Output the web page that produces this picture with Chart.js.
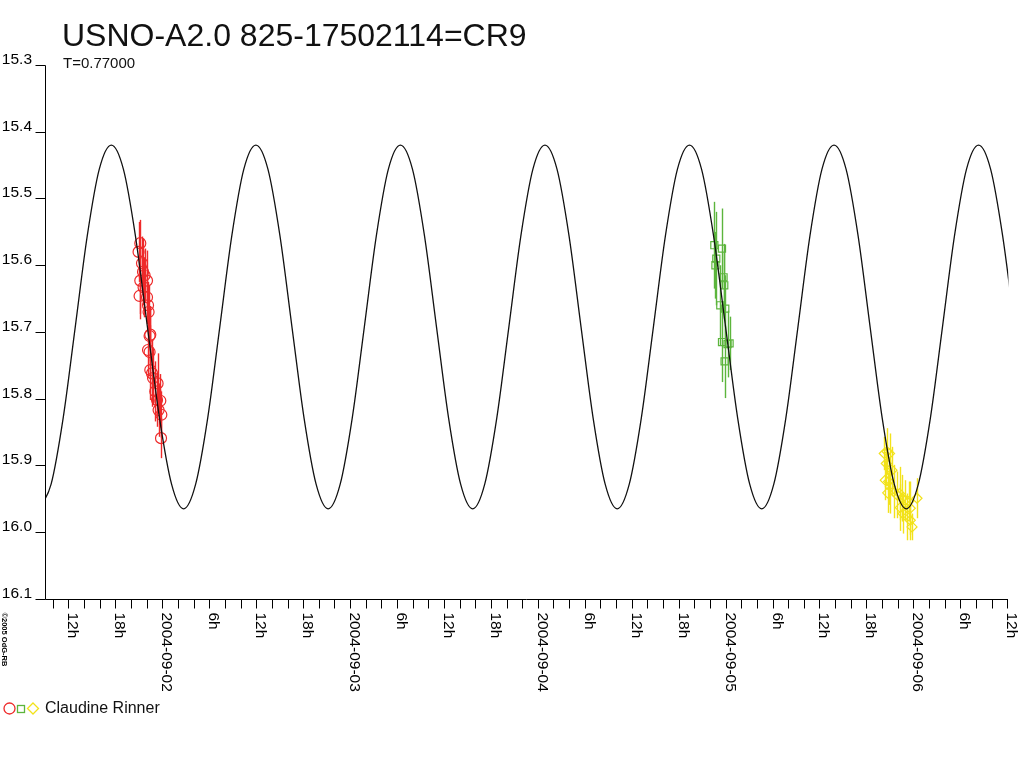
<!DOCTYPE html>
<html>
<head>
<meta charset="utf-8">
<script src="https://cdn.jsdelivr.net/npm/chart.js@4"></script>
<style>
html,body{margin:0;padding:0;background:#fff;}
#wrap{width:1024px;height:768px;position:relative;}
</style>
</head>
<body>
<div id="wrap"><canvas id="c" width="1024" height="768"></canvas></div>
<script>
// ---------- DATA (hours since 2004-09-01 00:00 UT, magnitudes) ----------
const titleText = 'USNO-A2.0 825-17502114=CR9';
const subtitleText = 'T=0.77000';
const observer = 'Claudine Rinner';

// model light curve (period 0.77 d)
const curveHours = [
  8.242, 9.782, 11.321, 12.861, 14.401, 15.940, 17.480, 19.020, 20.559, 22.099, 23.639, 25.178, 26.718,
  28.258, 29.797, 31.337, 32.877, 34.416, 35.956, 37.496, 39.035, 40.575, 42.115, 43.654, 45.194,
  46.734, 48.273, 49.813, 51.353, 52.892, 54.432, 55.972, 57.511, 59.051, 60.591, 62.130, 63.670,
  65.210, 66.749, 68.289, 69.829, 71.368, 72.908, 74.448, 75.987, 77.527, 79.067, 80.606, 82.146,
  83.686, 85.225, 86.765, 88.305, 89.844, 91.384, 92.924, 94.463, 96.003, 97.543, 99.082, 100.622,
  102.162, 103.701, 105.241, 106.781, 108.320, 109.860, 111.400, 112.939, 114.479, 116.019, 117.558, 119.098,
  120.638, 122.177, 123.717, 125.257, 126.796, 128.336, 129.876, 131.415, 132.955
];
const curveMags = [
  15.965, 15.928, 15.829, 15.693, 15.556, 15.456, 15.420, 15.456, 15.556, 15.693, 15.829, 15.928, 15.965,
  15.928, 15.829, 15.693, 15.556, 15.456, 15.420, 15.456, 15.556, 15.693, 15.829, 15.928, 15.965,
  15.928, 15.829, 15.693, 15.556, 15.456, 15.420, 15.456, 15.556, 15.693, 15.829, 15.928, 15.965,
  15.928, 15.829, 15.693, 15.556, 15.456, 15.420, 15.456, 15.556, 15.693, 15.829, 15.928, 15.965,
  15.928, 15.829, 15.693, 15.556, 15.456, 15.420, 15.456, 15.556, 15.693, 15.829, 15.928, 15.965,
  15.928, 15.829, 15.693, 15.556, 15.456, 15.420, 15.456, 15.556, 15.693, 15.829, 15.928, 15.965,
  15.928, 15.829, 15.693, 15.556, 15.456, 15.420, 15.456, 15.556, 15.693
];

// night 1 (red circles)
const redHours = [20.96, 21.09, 21.18, 21.18, 21.40, 21.53, 21.60, 21.73, 22.04, 22.04, 22.17, 22.17, 22.24,
  22.37, 22.37, 22.46, 22.46, 22.68, 22.81, 23.10, 23.32, 23.39, 23.52, 23.74, 23.87, 23.83];
const redMags = [15.580, 15.646, 15.567, 15.623, 15.597, 15.610, 15.633, 15.615, 15.623, 15.648, 15.660, 15.727, 15.670,
  15.706, 15.730, 15.704, 15.757, 15.762, 15.769, 15.789, 15.802, 15.777, 15.817, 15.803, 15.824, 15.859];
const redErrs = [0.045, 0.035, 0.035, 0.05, 0.04, 0.05, 0.045, 0.04, 0.045, 0.04, 0.035, 0.04, 0.04,
  0.045, 0.04, 0.04, 0.045, 0.05, 0.04, 0.045, 0.04, 0.045, 0.04, 0.04, 0.035, 0.03];

// night 2 (green squares)
const greenHours = [94.56, 94.81, 94.70, 95.54, 95.74, 95.83, 95.32, 95.96, 95.54, 96.25, 96.51, 95.87];
const greenMags = [15.570, 15.590, 15.600, 15.575, 15.618, 15.630, 15.660, 15.665, 15.715, 15.718, 15.717, 15.744];
const greenErrs = [0.065, 0.07, 0.05, 0.06, 0.05, 0.05, 0.06, 0.05, 0.06, 0.05, 0.04, 0.055];

// night 3 (yellow diamonds)
const yellowHours = [116.28, 116.63, 116.96, 116.54, 117.27, 116.41, 116.84, 117.05, 116.71, 117.47, 117.91,
  118.24, 118.55, 118.97, 119.39, 120.47, 118.68, 119.19, 119.61, 119.83, 118.33, 119.61];
const yellowMags = [15.882, 15.879, 15.882, 15.897, 15.907, 15.922, 15.924, 15.932, 15.941, 15.939, 15.944,
  15.942, 15.949, 15.952, 15.954, 15.949, 15.972, 15.977, 15.982, 15.992, 15.963, 15.964];
const yellowErrs = [0.025, 0.035, 0.03, 0.03, 0.035, 0.03, 0.035, 0.04, 0.03, 0.04, 0.035,
  0.04, 0.035, 0.03, 0.03, 0.03, 0.03, 0.035, 0.03, 0.02, 0.035, 0.04];

// axis ticks
const xMinorTicks = [10,12,14,16,18,20,22,24,26,28,30,32,34,36,38,40,42,44,46,48,50,52,54,56,58,60,62,64,66,68,70,
  72,74,76,78,80,82,84,86,88,90,92,94,96,98,100,102,104,106,108,110,112,114,116,118,120,122,124,126,128,130,132];
const xLabelHours = [12,18,24,30,36,42,48,54,60,66,72,78,84,90,96,102,108,114,120,126,132];
const xLabelTexts = ['12h','18h','2004-09-02','6h','12h','18h','2004-09-03','6h','12h','18h','2004-09-04',
  '6h','12h','18h','2004-09-05','6h','12h','18h','2004-09-06','6h','12h'];
const yTicks = [15.3, 15.4, 15.5, 15.6, 15.7, 15.8, 15.9, 16.0, 16.1];
const yTickLabels = ['15.3','15.4','15.5','15.6','15.7','15.8','15.9','16.0','16.1'];

// ---------- STYLE ----------
const RED = '#ee2a2a', GREEN = '#5cb53c', YELLOW = '#f2e21a';
const FONT = "'Liberation Sans', Arial, sans-serif";

const pts = (h, m) => h.map((v, i) => ({x: v, y: m[i]}));
const errSets = [null, redErrs, greenErrs, yellowErrs];

const decor = {
  id: 'decor',
  beforeDatasetsDraw(chart) {
    const ctx = chart.ctx, xs = chart.scales.x, ys = chart.scales.y;
    ctx.save();
    ctx.lineWidth = 1.4;
    chart.data.datasets.forEach((ds, i) => {
      const errs = errSets[i];
      if (!errs) return;
      ctx.strokeStyle = ds.borderColor;
      ds.data.forEach((p, j) => {
        const px = Math.round(xs.getPixelForValue(p.x)) + 0.5;
        ctx.beginPath();
        ctx.moveTo(px, ys.getPixelForValue(p.y - errs[j]));
        ctx.lineTo(px, ys.getPixelForValue(p.y + errs[j]));
        ctx.stroke();
      });
    });
    ctx.restore();
  },
  afterDraw(chart) {
    const ctx = chart.ctx, xs = chart.scales.x, ys = chart.scales.y, a = chart.chartArea;
    ctx.save();
    ctx.strokeStyle = '#000';
    ctx.fillStyle = '#000';
    ctx.lineWidth = 1;
    // axes
    const ax = Math.round(a.left) + 0.5, ay = Math.round(a.bottom) + 0.5;
    ctx.beginPath();
    ctx.moveTo(ax, Math.round(ys.getPixelForValue(yTicks[0])) + 0.5);
    ctx.lineTo(ax, ay);
    ctx.lineTo(Math.round(a.right), ay);
    ctx.stroke();
    // y ticks + labels
    ctx.font = '15.5px ' + FONT;
    ctx.textAlign = 'right';
    ctx.textBaseline = 'alphabetic';
    yTicks.forEach((v, i) => {
      const py = Math.round(ys.getPixelForValue(v)) + 0.5;
      ctx.beginPath();
      ctx.moveTo(ax - 10, py);
      ctx.lineTo(ax, py);
      ctx.stroke();
      ctx.fillText(yTickLabels[i], 32, py - 1.5);
    });
    // x ticks
    xMinorTicks.forEach(h => {
      const px = Math.round(xs.getPixelForValue(h)) + 0.5;
      ctx.beginPath();
      ctx.moveTo(px, ay);
      ctx.lineTo(px, ay + 9);
      ctx.stroke();
    });
    // x labels, rotated clockwise
    ctx.font = '15.5px ' + FONT;
    ctx.textAlign = 'left';
    xLabelHours.forEach((h, i) => {
      const px = xs.getPixelForValue(h);
      ctx.save();
      ctx.translate(px, ay + 13);
      ctx.rotate(Math.PI / 2);
      ctx.fillText(xLabelTexts[i], 0, 0);
      ctx.restore();
    });
    // copyright
    ctx.save();
    ctx.font = 'bold 7.5px ' + FONT;
    ctx.translate(2, ay + 13);
    ctx.rotate(Math.PI / 2);
    ctx.fillText('\u00A92005 OdG-RB', 0, 0);
    ctx.restore();
    // title & subtitle
    ctx.textAlign = 'left';
    ctx.fillStyle = '#111';
    ctx.font = '32px ' + FONT;
    ctx.fillText(titleText, 62, 46);
    ctx.font = '15px ' + FONT;
    ctx.fillText(subtitleText, 63, 68);
    // legend
    ctx.lineWidth = 1.3;
    ctx.strokeStyle = RED;
    ctx.beginPath(); ctx.arc(9.5, 708.5, 5.5, 0, Math.PI * 2); ctx.stroke();
    ctx.strokeStyle = GREEN;
    ctx.strokeRect(17.5, 705.5, 7, 7);
    ctx.strokeStyle = YELLOW;
    ctx.beginPath();
    ctx.moveTo(33, 703); ctx.lineTo(38.5, 708.5); ctx.lineTo(33, 714); ctx.lineTo(27.5, 708.5); ctx.closePath();
    ctx.stroke();
    ctx.fillStyle = '#111';
    ctx.font = '16px ' + FONT;
    ctx.fillText(observer, 45, 713);
    ctx.restore();
  }
};

new Chart(document.getElementById('c'), {
  type: 'line',
  data: {
    datasets: [
      { label: 'model', data: pts(curveHours, curveMags), borderColor: '#111', borderWidth: 1.3,
        pointRadius: 0, cubicInterpolationMode: 'monotone', fill: false },
      { label: observer, data: pts(redHours, redMags), showLine: false, borderColor: RED,
        backgroundColor: 'transparent', pointStyle: 'circle', pointRadius: 5.5, pointBorderWidth: 1.2 },
      { label: observer, data: pts(greenHours, greenMags), showLine: false, borderColor: GREEN,
        backgroundColor: 'transparent', pointStyle: 'rect', pointRadius: 5, pointBorderWidth: 1.2 },
      { label: observer, data: pts(yellowHours, yellowMags), showLine: false, borderColor: YELLOW,
        backgroundColor: 'transparent', pointStyle: 'rectRot', pointRadius: 5, pointBorderWidth: 1.2 }
    ]
  },
  options: {
    responsive: false,
    animation: false,
    devicePixelRatio: 1,
    layout: { padding: { left: 45, right: 15.6, top: 65, bottom: 169 } },
    plugins: { legend: { display: false }, tooltip: { enabled: false }, title: { display: false } },
    scales: {
      x: { type: 'linear', min: 9, max: 132.15, display: false },
      y: { type: 'linear', min: 15.3, max: 16.1, reverse: true, display: false }
    }
  },
  plugins: [decor]
});
</script>
</body>
</html>
